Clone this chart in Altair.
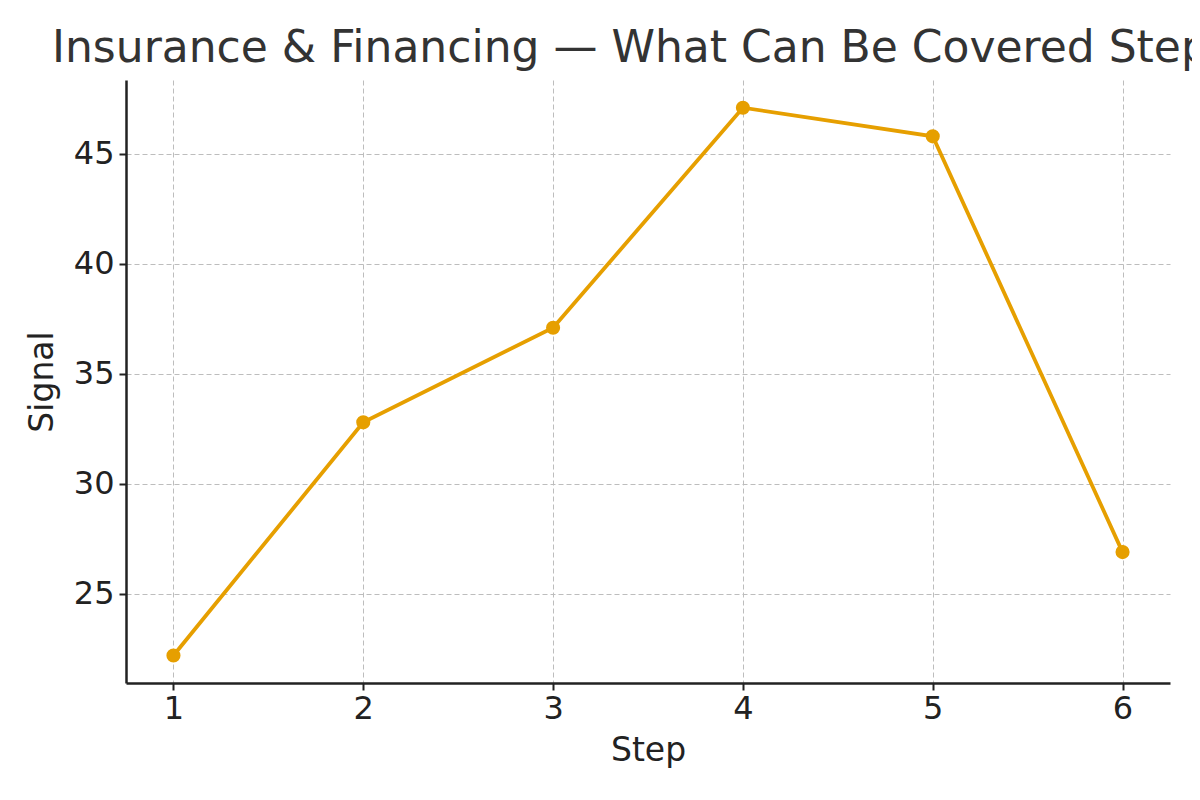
import altair as alt
import pandas as pd

steps = [1, 2, 3, 4, 5, 6]
signal = [22.2, 32.8, 37.1, 47.1, 45.8, 26.9]

df = pd.DataFrame({"Step": steps, "Signal": signal})

color = "#E69F00"
font = "DejaVu Sans"

x = alt.X("Step:Q", scale=alt.Scale(domain=[0.75, 6.25], nice=False, zero=False),
          axis=alt.Axis(values=steps, title="Step", format="d"))
y = alt.Y("Signal:Q", scale=alt.Scale(domain=[20.95, 48.36], nice=False, zero=False),
          axis=alt.Axis(values=[25, 30, 35, 40, 45], title="Signal"))

line = alt.Chart(df).mark_line(color=color, strokeWidth=3.8).encode(x=x, y=y)
pts = alt.Chart(df).mark_point(color=color, filled=True, opacity=1, size=200).encode(x=x, y=y)

chart = (line + pts).properties(
    width=1044,
    height=603,
    autosize=alt.AutoSizeParams(type="none"),
    padding={"left": 118, "top": 72, "right": 22, "bottom": 90},
    title=alt.TitleParams(
        "Insurance & Financing — What Can Be Covered Step by Step",
        anchor="start", frame="group", dx=-74, dy=42, offset=16, baseline="alphabetic",
        font=font, fontSize=44, fontWeight="normal", color="#333333",
    ),
).configure_view(stroke=None).configure_axis(
    labelFont=font, titleFont=font, labelFontSize=32, titleFontSize=33,
    labelColor="#222222", titleColor="#222222", titleFontWeight="normal",
    domainColor="#222222", domainWidth=2.5, tickColor="#222222", tickWidth=2, tickSize=7,
    labelPadding=5, gridColor="#bdbdbd", gridDash=[5, 3], gridWidth=1,
).configure_axisX(titlePadding=10, labelPadding=3).configure_axisY(titlePadding=14)

chart.save("out.html", embed_options={"renderer": "svg", "actions": False})
